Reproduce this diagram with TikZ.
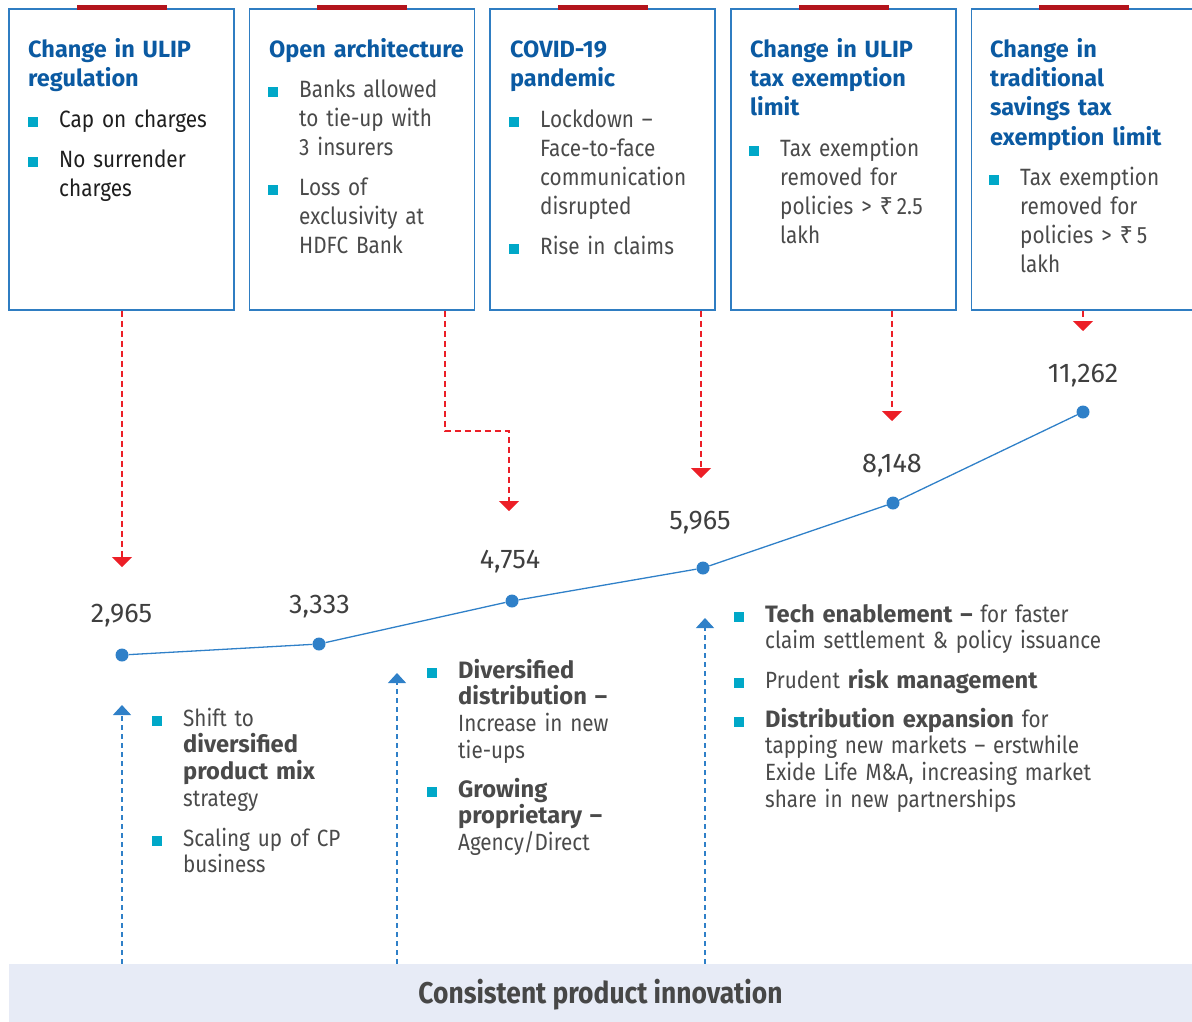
\documentclass[tikz,border=0pt]{standalone}
\usepackage{fontspec}
\setmainfont{Fira Sans}
\newfontfamily\condf{Fira Sans}[FakeStretch=0.88]
\newfontfamily\lboldf{Fira Sans}
\newfontfamily\rupf{Noto Sans}
\newcommand\lowbold[1]{{\lboldf\bfseries\fontsize{23.7}{26.8}\selectfont #1}}
\usetikzlibrary{arrows.meta,calc}
\definecolor{headblue}{HTML}{0B5AA2}
\definecolor{boxblue}{HTML}{2F7DC2}
\definecolor{bulletc}{HTML}{00A8C8}
\definecolor{bodygray}{HTML}{4A4A4A}
\definecolor{bodydark}{HTML}{1E1E1E}
\definecolor{lowgray}{HTML}{4A4A4A}
\definecolor{numgray}{HTML}{3F3F3F}
\definecolor{redbar}{HTML}{B3141C}
\definecolor{arrred}{HTML}{EC1F27}
\definecolor{lineblue}{HTML}{2F80C8}
\definecolor{bandfill}{HTML}{E7EBF6}
\definecolor{bandtext}{HTML}{474747}
\tikzset{
  box/.style={draw=boxblue, line width=1.5pt, minimum width=225, minimum height=301, inner sep=0pt},
  bhead/.style={anchor=base west, inner sep=0pt, align=left, text width=200, font=\bfseries\fontsize{23.5}{29.4}\selectfont, text=headblue},
  bbody/.style={anchor=base west, inner sep=0pt, align=left, text width=168, font=\condf\fontsize{23.6}{29}\selectfont, text=bodygray},
  lbody/.style={anchor=base west, inner sep=0pt, align=left, text width=#1, font=\condf\fontsize{23.5}{26.8}\selectfont, text=lowgray},
  numlab/.style={anchor=base, inner sep=0pt, font=\fontsize{27}{30}\selectfont, text=numgray},
  dot/.style={circle, fill=lineblue, minimum size=13, inner sep=0pt},
  redarr/.style={draw=arrred, line width=1.3pt, dash pattern=on 6pt off 4pt, -{Triangle[width=20pt,length=10pt]}},
  bluarr/.style={draw=lineblue, line width=1.2pt, dash pattern=on 5pt off 4pt, -{Triangle[width=18pt,length=10pt]}},
}
\begin{document}
\begin{tikzpicture}[x=1pt,y=-1pt]
\useasboundingbox (0,0) rectangle (1192,1021);

% boxes
\node[box] (b1) at (121.5,159.5) {};
\node[box] (b2) at (362,159.5) {};
\node[box] (b3) at (602.5,159.5) {};
\node[box] (b4) at (843.5,159.5) {};
\node[box] (b5) at (1084,159.5) {};
\foreach \b in {b1,b2,b3,b4,b5}
  \fill[redbar] ($(\b.north)+(-45,-3)$) rectangle ($(\b.north)+(45,2)$);

% headings
\node[bhead] (h1) at (28,57) {Change in ULIP\\regulation};
\node[bhead] (h2) at (269,57) {Open architecture};
\node[bhead] (h3) at (510,57) {COVID-19\\pandemic};
\node[bhead] (h4) at (750,57) {Change in ULIP\\tax exemption\\limit};
\node[bhead, text width=195] (h5) at (990,57) {Change in\\traditional\\savings tax\\exemption limit};

% box items
\node[bbody, text=bodydark] (i11) at (59,127) {Cap on charges};
\node[bbody, text=bodydark] (i12) at (59,167) {No surrender\\charges};
\node[bbody] (i21) at (299,97) {Banks allowed\\to tie-up with\\3 insurers};
\node[bbody] (i22) at (299,195) {Loss of\\exclusivity at\\HDFC Bank};
\node[bbody] (i31) at (540,127) {Lockdown –\\Face-to-face\\communication\\disrupted};
\node[bbody] (i32) at (540,254) {Rise in claims};
\node[bbody] (i41) at (780,156) {Tax exemption\\removed for\\policies > {\rupf ₹}\,2.5\\lakh};
\node[bbody, text width=165] (i51) at (1020,185) {Tax exemption\\removed for\\policies > {\rupf ₹}\,5\\lakh};

% lower items
\node[lbody=180] (l11) at (183,726) {Shift to\\\lowbold{diversified}\\\lowbold{product mix}\\strategy};
\node[lbody=180] (l12) at (183,846) {Scaling up of CP\\business};
\node[lbody=200] (l21) at (458,678) {\lowbold{Diversified}\\\lowbold{distribution –}\\Increase in new\\tie-ups};
\node[lbody=200] (l22) at (458,797) {\lowbold{Growing}\\\lowbold{proprietary –}\\Agency/Direct};
\node[lbody=400] (l31) at (765,622) {\lowbold{Tech enablement –} for faster\\claim settlement \& policy issuance};
\node[lbody=400] (l32) at (765,688) {Prudent \lowbold{risk management}};
\node[lbody=400] (l33) at (765,727) {\lowbold{Distribution expansion} for\\tapping new markets – erstwhile\\Exide Life M\&A, increasing market\\share in new partnerships};

\foreach \n in {i11,i12,i21,i22,i31,i32,i41,i51,l11,l12,l21,l22,l31,l32,l33}
  \fill[bulletc] ($(\n.base west)+(-31,0)$) rectangle ++(10,-10);

% data points
\node[dot] (p1) at (122,655) {};
\node[dot] (p2) at (319,644) {};
\node[dot] (p3) at (512,601) {};
\node[dot] (p4) at (703,568) {};
\node[dot] (p5) at (893,503) {};
\node[dot] (p6) at (1083,412) {};
\draw[lineblue, line width=1.3pt] (p1) -- (p2) -- (p3) -- (p4) -- (p5) -- (p6);

\node[numlab] (n1) at (121.5,622) {2,965};
\node[numlab] (n2) at (319.5,613) {3,333};
\node[numlab] (n3) at (510,568) {4,754};
\node[numlab] (n4) at (700,529) {5,965};
\node[numlab] (n5) at (892,472) {8,148};
\node[numlab] (n6) at (1083,382) {11,262};

% red arrows
\coordinate (r1) at (122,567);
\coordinate (q2) at (445,431);
\coordinate (r2) at (509,511);
\coordinate (r3) at (701,478);
\coordinate (r4) at (892,421);
\coordinate (r5) at (1083,331);
\draw[redarr] (b1.south -| r1) -- (r1);
\draw[redarr] (b2.south -| q2) -- (q2) -| (r2);
\draw[redarr] (b3.south -| r3) -- (r3);
\draw[redarr] (b4.south -| r4) -- (r4);
\draw[redarr] (b5.south -| r5) -- (r5);

% band
\node[fill=bandfill, minimum width=1183, minimum height=62, inner sep=0pt,
      font=\condf\bfseries\fontsize{30}{34}\selectfont, text=bandtext] (band) at (600.5,995) {Consistent product innovation};

% blue arrows
\coordinate (u1) at (122,705);
\coordinate (u2) at (397,673);
\coordinate (u3) at (705,618);
\draw[bluarr] (band.north -| u1) -- (u1);
\draw[bluarr] (band.north -| u2) -- (u2);
\draw[bluarr] (band.north -| u3) -- (u3);
\end{tikzpicture}
\end{document}
